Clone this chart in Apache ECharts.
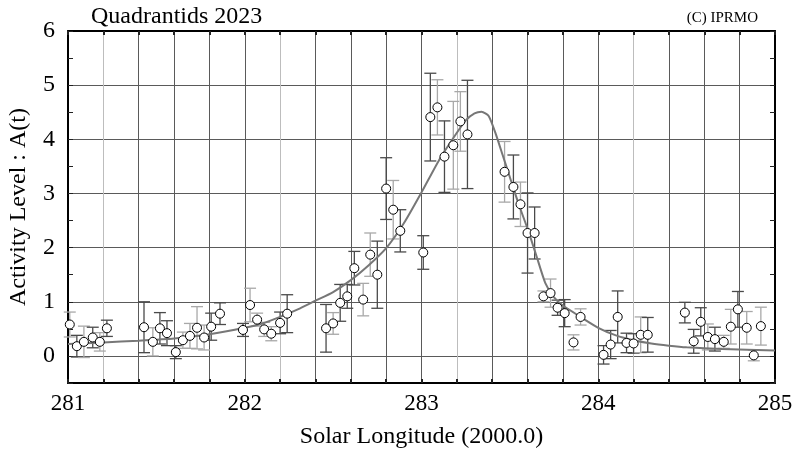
<!DOCTYPE html>
<html>
<head>
<meta charset="utf-8">
<script src="https://cdn.jsdelivr.net/npm/echarts@6/dist/echarts.min.js"></script>
<style>
html,body{margin:0;padding:0;background:#fff;}
#chart{width:806px;height:451px;}
</style>
</head>
<body>
<div id="chart"></div>
<script>
// ---- data ----
const titleText = 'Quadrantids 2023';
const creditText = '(C) IPRMO';
const xAxisName = 'Solar Longitude (2000.0)';
const yAxisName = 'Activity Level : A(t)';

const lon = [281.01, 281.05, 281.09, 281.14, 281.18, 281.22, 281.43, 281.48, 281.52, 281.56, 281.61, 281.65, 281.69, 281.73, 281.77, 281.81, 281.86, 281.99, 282.03, 282.07, 282.11, 282.15, 282.20, 282.24, 282.46, 282.50, 282.54, 282.58, 282.62, 282.67, 282.71, 282.75, 282.80, 282.84, 282.88, 283.01, 283.05, 283.09, 283.13, 283.18, 283.22, 283.26, 283.47, 283.52, 283.56, 283.60, 283.64, 283.69, 283.73, 283.77, 283.81, 283.86, 283.90, 284.03, 284.07, 284.11, 284.16, 284.20, 284.24, 284.28, 284.49, 284.54, 284.58, 284.62, 284.66, 284.71, 284.75, 284.79, 284.84, 284.88, 284.92];
const activity = [0.58, 0.18, 0.26, 0.34, 0.26, 0.51, 0.53, 0.26, 0.51, 0.42, 0.07, 0.29, 0.37, 0.52, 0.34, 0.54, 0.78, 0.48, 0.94, 0.67, 0.49, 0.41, 0.61, 0.78, 0.51, 0.60, 0.98, 1.10, 1.62, 1.04, 1.87, 1.50, 3.09, 2.70, 2.31, 1.91, 4.41, 4.59, 3.68, 3.89, 4.33, 4.09, 3.40, 3.12, 2.80, 2.27, 2.27, 1.10, 1.16, 0.89, 0.79, 0.25, 0.72, 0.02, 0.21, 0.72, 0.24, 0.23, 0.39, 0.39, 0.80, 0.27, 0.63, 0.35, 0.31, 0.26, 0.54, 0.86, 0.52, 0.01, 0.55];
const errHalf = [0.23, 0.20, 0.29, 0.19, 0.17, 0.15, 0.47, 0.26, 0.29, 0.23, 0.12, 0.15, 0.23, 0.39, 0.23, 0.25, 0.20, 0.12, 0.31, 0.12, 0.13, 0.13, 0.20, 0.35, 0.44, 0.20, 0.34, 0.22, 0.31, 0.30, 0.40, 0.62, 0.57, 0.54, 0.39, 0.31, 0.81, 0.51, 0.66, 0.81, 0.55, 1.00, 0.56, 0.59, 0.41, 0.74, 0.48, 0.10, 0.26, 0.14, 0.25, 0.14, 0.15, 0.17, 0.26, 0.48, 0.18, 0.18, 0.33, 0.32, 0.19, 0.22, 0.26, 0.24, 0.22, 0.12, 0.32, 0.33, 0.30, 0.10, 0.35];
const group = ['B','A','B','A','B','A','A','B','A','A','A','B','B','B','B','A','A','A','B','B','B','B','A','A','A','B','A','A','A','B','B','A','A','B','A','A','A','B','A','B','B','A','B','A','B','A','A','B','B','A','A','B','B','A','A','A','A','A','B','A','A','A','A','B','A','B','B','A','B','B','B'];

const fitLon = [281.0, 281.2, 281.4, 281.6, 281.8, 282.0, 282.1, 282.2, 282.3, 282.4, 282.5, 282.6, 282.7, 282.8, 282.9, 283.0, 283.1, 283.2, 283.25, 283.3, 283.34, 283.38, 283.42, 283.46, 283.5, 283.55, 283.6, 283.65, 283.7, 283.75, 283.8, 283.9, 284.0, 284.1, 284.2, 284.3, 284.4, 284.5, 284.7, 285.0];
const fitLevel = [0.22, 0.25, 0.28, 0.32, 0.40, 0.52, 0.60, 0.72, 0.86, 1.02, 1.18, 1.40, 1.67, 1.99, 2.45, 3.02, 3.62, 4.12, 4.35, 4.48, 4.51, 4.43, 4.10, 3.70, 3.30, 2.80, 2.35, 1.85, 1.35, 1.08, 0.93, 0.72, 0.52, 0.38, 0.29, 0.23, 0.19, 0.16, 0.13, 0.10];

const xMin = 281, xMax = 285, xStep = 0.2;
const yMin = -0.5, yMax = 6, yStep = 0.5;

// ---- chart ----
const FONT = '"Liberation Serif", "Times New Roman", serif';
const chart = echarts.init(document.getElementById('chart'), null, {renderer: 'canvas'});

const isInt = v => Math.abs(v - Math.round(v)) < 1e-6;
const points = lon.map((x, i) => [x, activity[i]]);
const bars = lon.map((x, i) => [x, activity[i] - errHalf[i], activity[i] + errHalf[i], group[i] === 'A' ? 0 : 1]);
const fit = fitLon.map((x, i) => [x, fitLevel[i]]);

const barColors = ['#4a4a4a', '#a8a8a8'];

const xCommon = {
  type: 'value', min: xMin, max: xMax, interval: xStep,
  axisLine: {show: true, onZero: false, lineStyle: {color: '#000', width: 2}},
  axisTick: {show: true, inside: true, length: 4, lineStyle: {color: '#222', width: 2}},
};
const yCommon = {
  type: 'value', min: yMin, max: yMax, interval: yStep,
  axisLine: {show: true, onZero: false, lineStyle: {color: '#000', width: 2}},
  axisTick: {show: true, inside: true, length: 5, lineStyle: {color: '#222', width: 1}},
};

chart.setOption({
  animation: false,
  backgroundColor: '#fff',
  textStyle: {fontFamily: FONT},
  title: [
    {text: titleText, left: 86, top: 0, textStyle: {fontFamily: FONT, fontSize: 24, fontWeight: 'normal', color: '#000'}},
    {text: creditText, right: 43, top: 6, textStyle: {fontFamily: FONT, fontSize: 15, fontWeight: 'normal', color: '#000'}}
  ],
  grid: {left: 68, right: 31, top: 31, bottom: 68, show: false, containLabel: false, outerBoundsMode: 'none'},
  xAxis: [
    Object.assign({}, xCommon, {
      position: 'bottom',
      name: xAxisName, nameLocation: 'middle', nameGap: 42,
      nameTextStyle: {fontFamily: FONT, fontSize: 24, color: '#000'},
      axisLabel: {show: true, margin: 9, fontFamily: FONT, fontSize: 23, color: '#000',
        formatter: v => isInt(v) ? String(Math.round(v)) : ''},
      splitLine: {show: true, lineStyle: {color: ['#5a5a5a', '#bdbdbd', '#5a5a5a', '#5a5a5a', '#5a5a5a'], width: 1}}
    }),
    Object.assign({}, xCommon, {position: 'top', axisLabel: {show: false}, splitLine: {show: false}})
  ],
  yAxis: [
    Object.assign({}, yCommon, {
      position: 'left',
      name: yAxisName, nameLocation: 'middle', nameGap: 37, nameRotate: 90,
      nameTextStyle: {fontFamily: FONT, fontSize: 24, color: '#000'},
      axisLabel: {show: true, margin: 13, fontFamily: FONT, fontSize: 24, color: '#000',
        formatter: v => isInt(v) ? String(Math.round(v)) : ''},
      splitLine: {show: true, lineStyle: {color: ['rgba(0,0,0,0)', '#5a5a5a'], width: 1}}
    }),
    Object.assign({}, yCommon, {position: 'right', axisLabel: {show: false}, splitLine: {show: false}})
  ],
  series: [
    {
      type: 'custom', z: 2, silent: true,
      data: bars,
      encode: {x: 0, y: [1, 2]},
      renderItem: function (params, api) {
        const x = api.value(0);
        const lo = api.coord([x, api.value(1)]);
        const hi = api.coord([x, api.value(2)]);
        const c = barColors[api.value(3)];
        const hw = 6;
        const st = {stroke: c, lineWidth: 1.3};
        return {type: 'group', children: [
          {type: 'line', shape: {x1: lo[0], y1: lo[1], x2: hi[0], y2: hi[1]}, style: st},
          {type: 'line', shape: {x1: lo[0] - hw, y1: lo[1], x2: lo[0] + hw, y2: lo[1]}, style: st},
          {type: 'line', shape: {x1: hi[0] - hw, y1: hi[1], x2: hi[0] + hw, y2: hi[1]}, style: st}
        ]};
      }
    },
    {
      type: 'line', z: 3, silent: true, data: fit, showSymbol: false, symbol: 'none', smooth: 0.2,
      lineStyle: {color: '#777', width: 2}
    },
    {
      type: 'scatter', z: 4, silent: true, data: points, symbol: 'circle', symbolSize: 9,
      itemStyle: {color: '#fff', borderColor: '#000', borderWidth: 1, opacity: 1}
    }
  ]
});
</script>
</body>
</html>
